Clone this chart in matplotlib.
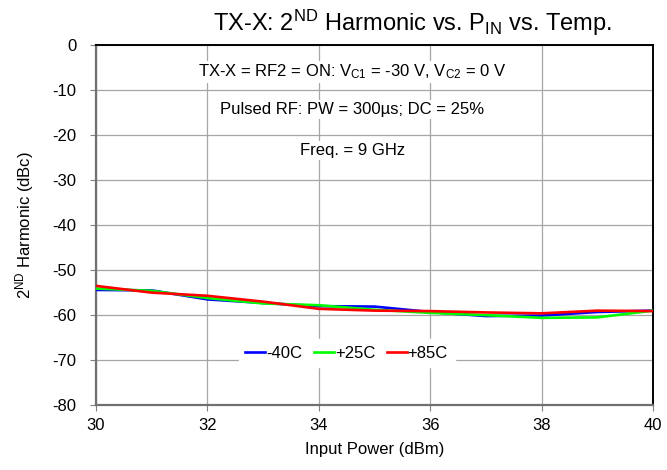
import matplotlib

matplotlib.use("Agg")
import matplotlib.pyplot as plt

plt.rcParams["font.family"] = ["Liberation Sans", "DejaVu Sans"]
plt.rcParams["mathtext.fontset"] = "custom"
plt.rcParams["mathtext.rm"] = "Liberation Sans"
plt.rcParams["mathtext.it"] = "Liberation Sans:italic"
plt.rcParams["mathtext.bf"] = "Liberation Sans:bold"
plt.rcParams["axes.unicode_minus"] = False

# input power (dBm)
pin = [30, 31, 32, 33, 34, 35, 36, 37, 38, 39, 40]

# 2nd harmonic (dBc) per temperature
h2_m40 = [-54.4, -54.5, -56.5, -57.3, -58.0, -58.1, -59.3, -60.2, -60.1, -59.3, -59.0]
h2_p25 = [-54.1, -54.6, -56.2, -57.4, -57.8, -58.8, -59.5, -60.0, -60.6, -60.5, -59.0]
h2_p85 = [-53.5, -55.0, -55.7, -57.0, -58.6, -59.0, -59.1, -59.4, -59.6, -59.0, -59.1]

series = [("-40C", h2_m40, "#0000FF"), ("+25C", h2_p25, "#00FF00"), ("+85C", h2_p85, "#FF0000")]

x_ticks = [30, 32, 34, 36, 38, 40]
y_ticks = [0, -10, -20, -30, -40, -50, -60, -70, -80]

fig = plt.figure(figsize=(6.67, 4.70), dpi=100)
ax = fig.add_axes([0.144, 0.138, 0.835, 0.766])

for label, vals, color in series:
    ax.plot(pin, vals, color=color, linewidth=1.9, label=label, zorder=3)

ax.set_xlim(30, 40)
ax.set_ylim(-80, 0)
ax.set_xticks(x_ticks)
ax.set_yticks(y_ticks)
ax.grid(True, color="#A6A6A6", linewidth=0.9)
ax.set_axisbelow(True)
ax.tick_params(axis="both", labelsize=12, length=4, width=0.8, color="#808080", direction="out")
ax.tick_params(axis="x", pad=5)
ax.tick_params(axis="y", pad=10)

for side in ["left", "bottom"]:
    ax.spines[side].set_color("#707070")
    ax.spines[side].set_linewidth(1.6)
for side in ["top", "right"]:
    ax.spines[side].set_color("black")
    ax.spines[side].set_linewidth(1.4)

ax.set_xlabel("Input Power (dBm)", fontsize=12, labelpad=7)
ax.set_ylabel(r"2$^{\rm ND}$ Harmonic (dBc)", fontsize=12, labelpad=12)
fig.text(0.618, 0.935, r"TX-X: 2$^{\rm ND}$ Harmonic vs. P$_{\rm IN}$ vs. Temp.",
         fontsize=17, ha="center", va="baseline")

box = dict(facecolor="white", edgecolor="none", pad=1.5)
ax.text(0.46, 0.925, r"TX-X = RF2 = ON: V$_{\rm C1}$ = -30 V, V$_{\rm C2}$ = 0 V",
        transform=ax.transAxes, ha="center", va="center", fontsize=12, bbox=box, zorder=2)
ax.text(0.46, 0.82, "Pulsed RF: PW = 300µs; DC = 25%",
        transform=ax.transAxes, ha="center", va="center", fontsize=12, bbox=box, zorder=2)
ax.text(0.46, 0.708, "Freq. = 9 GHz",
        transform=ax.transAxes, ha="center", va="center", fontsize=12, bbox=box, zorder=2)

leg = ax.legend(loc="center", bbox_to_anchor=(0.45, 0.144), ncol=3, fontsize=12,
                frameon=True, fancybox=False, handlelength=1.2, handletextpad=0.05,
                columnspacing=0.7, borderpad=0.4)
leg.get_frame().set_edgecolor("white")
leg.get_frame().set_facecolor("white")
leg.get_frame().set_alpha(1.0)

fig.savefig("out.png", dpi=100)
